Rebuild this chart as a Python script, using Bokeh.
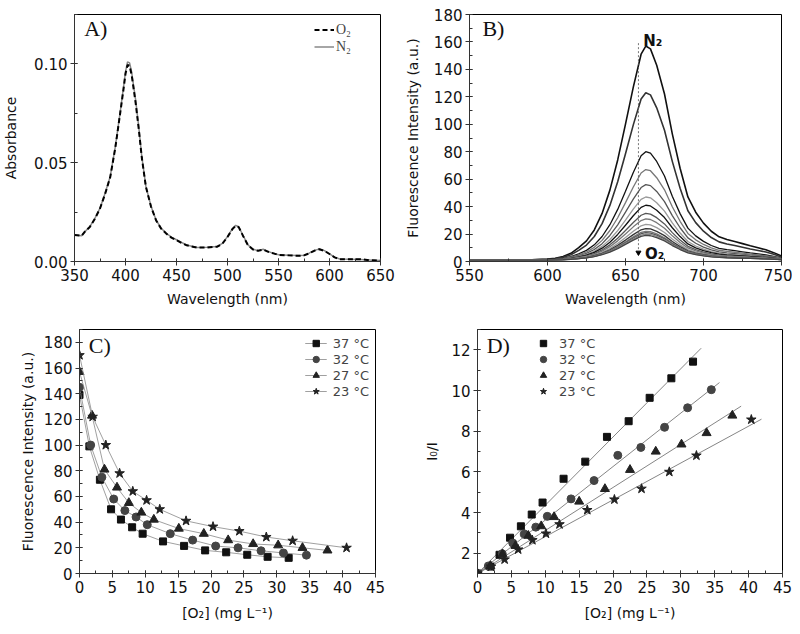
from bokeh.plotting import figure
from bokeh.layouts import column, row
from bokeh.models import Range1d, SingleIntervalTicker, Legend, LegendItem, NumeralTickFormatter
from bokeh.embed import file_html
from bokeh.resources import INLINE
from bokeh.core.properties import value

# ---------------- Panel A: absorbance ----------------
wl_abs = [350, 357, 360, 365, 370, 375, 380, 385, 390, 395, 398, 400, 402, 404, 406, 410, 413, 416, 420,
          425, 430, 435, 440, 445, 450, 455, 460, 470, 480, 490, 495, 500, 505, 508, 511, 515, 520, 525,
          530, 535, 540, 545, 550, 560, 570, 575, 580, 585, 590, 595, 600, 605, 610, 620, 630, 640, 650]
abs_n2 = [0.0134, 0.013, 0.015, 0.0176, 0.0218, 0.027, 0.0345, 0.043, 0.058, 0.0765, 0.088, 0.096, 0.101,
          0.1005, 0.096, 0.0815, 0.068, 0.053, 0.038, 0.028, 0.021, 0.0168, 0.0143, 0.0123, 0.011, 0.0096,
          0.0084, 0.0071, 0.0072, 0.0076, 0.0092, 0.0126, 0.0168, 0.0183, 0.0176, 0.0134, 0.0084, 0.0062,
          0.0055, 0.0062, 0.005, 0.0042, 0.0034, 0.0032, 0.003, 0.0032, 0.0042, 0.0055, 0.0064, 0.0055,
          0.0039, 0.0022, 0.0013, 0.0012, 0.001, 0.0007, 0.0005]
abs_o2 = [0.0134, 0.013, 0.015, 0.0175, 0.0216, 0.0268, 0.0342, 0.0426, 0.0575, 0.0758, 0.087, 0.095, 0.0995,
          0.099, 0.0945, 0.080, 0.067, 0.0525, 0.0378, 0.0278, 0.0208, 0.0166, 0.0141, 0.0121, 0.0108, 0.0094,
          0.0082, 0.007, 0.0071, 0.0075, 0.009, 0.0124, 0.0165, 0.018, 0.0174, 0.0132, 0.0083, 0.0061,
          0.0054, 0.006, 0.0049, 0.0041, 0.0033, 0.0031, 0.0029, 0.0031, 0.0041, 0.0054, 0.0062, 0.0054,
          0.0038, 0.0021, 0.0012, 0.0011, 0.0012, 0.0006, 0.0005]

# ---------------- Panel B: emission spectra ----------------
wl_fl = [550, 560, 570, 580, 590, 600, 605, 610, 615, 620, 625, 630, 635, 640, 645, 650, 655, 660, 663, 666,
         670, 675, 680, 685, 690, 695, 700, 705, 710, 715, 720, 725, 730, 735, 740, 745, 750]
fl_profile = [0, 0, 0, 0.0006, 0.002, 0.0045, 0.009, 0.017, 0.032, 0.058, 0.09, 0.141, 0.218, 0.327, 0.468,
              0.635, 0.808, 0.962, 1.0, 0.987, 0.910, 0.776, 0.590, 0.429, 0.295, 0.224, 0.173, 0.135,
              0.109, 0.096, 0.087, 0.077, 0.067, 0.058, 0.048, 0.035, 0.019]
fl_peaks = [157, 123, 80, 67, 56, 47, 41, 35, 31, 27, 24, 22, 21, 20, 19]
fl_baseline = 1.0
fl_colors = ["#111111", "#333333", "#111111", "#777777", "#555555", "#999999", "#111111", "#555555",
             "#777777", "#999999", "#333333", "#777777", "#555555", "#888888", "#444444"]

# ---------------- Panel C: intensity vs O2 ----------------
c_x37 = [0, 1.5, 3.1, 4.8, 6.3, 8.0, 9.6, 12.7, 15.9, 19.1, 22.3, 25.5, 28.6, 31.8]
c_y37 = [139, 99, 73, 50, 42, 36, 31, 25, 21.5, 18, 16.5, 14.6, 13, 12.2]
c_x32 = [0, 1.7, 3.4, 5.2, 6.9, 8.6, 10.3, 13.8, 17.2, 20.7, 24.1, 27.6, 31.0, 34.5]
c_y32 = [145, 100, 75, 58, 49, 44, 38, 31, 26, 21.4, 20, 17.7, 16, 14.3]
c_x27 = [0, 1.9, 3.8, 5.7, 7.5, 9.4, 11.3, 15.1, 18.9, 22.6, 26.4, 30.2, 33.9, 37.7]
c_y27 = [157, 123, 81, 67, 55, 47.5, 42, 35, 31, 26, 23, 22, 20, 18]
c_x23 = [0, 2.0, 4.0, 6.1, 8.1, 10.2, 12.2, 16.2, 20.3, 24.3, 28.4, 32.4, 40.6]
c_y23 = [170, 122, 100, 78, 64, 57, 50, 41, 36.5, 33, 28.4, 25.5, 20]

# ---------------- Panel D: Stern-Volmer ----------------
d_x37 = [0, 1.9, 3.25, 4.8, 6.4, 8.0, 9.6, 12.7, 15.9, 19.1, 22.3, 25.4, 28.6, 31.8]
d_y37 = [1.0, 1.34, 1.92, 2.76, 3.32, 3.9, 4.49, 5.66, 6.5, 7.72, 8.49, 9.64, 10.6, 11.42]
d_x32 = [0, 1.6, 3.65, 5.2, 6.9, 8.6, 10.3, 13.8, 17.2, 20.7, 24.1, 27.6, 31.0, 34.5]
d_y32 = [1.0, 1.37, 1.97, 2.5, 2.94, 3.28, 3.81, 4.67, 5.57, 6.81, 7.2, 8.19, 9.15, 10.04]
d_x27 = [0, 1.9, 3.7, 5.6, 7.5, 9.4, 11.3, 15.0, 18.8, 22.5, 26.3, 30.1, 33.8, 37.6]
d_y27 = [1.0, 1.37, 1.95, 2.36, 2.86, 3.33, 3.78, 4.54, 5.16, 6.1, 7.0, 7.35, 7.91, 8.77]
d_x23 = [0, 2.0, 4.0, 6.0, 8.1, 10.1, 12.1, 16.2, 20.2, 24.2, 28.3, 32.3, 40.4]
d_y23 = [1.0, 1.34, 1.69, 2.18, 2.64, 2.96, 3.42, 4.12, 4.64, 5.17, 6.0, 6.8, 8.57]
fit_x = {"37": [0, 33.0], "32": [0, 35.7], "27": [0, 38.9], "23": [0, 41.9]}
fit_y = {"37": [1.0, 12.08], "32": [1.0, 10.39], "27": [1.0, 9.23], "23": [1.0, 8.59]}

temps = ["37", "32", "27", "23"]
markers = {"37": "square", "32": "circle", "27": "triangle", "23": "star"}
mcolors = {"37": "#111111", "32": "#444444", "27": "#222222", "23": "#222222"}
msizes = {"37": 7, "32": 8, "27": 9, "23": 10}

SANS = "DejaVu Sans"
SERIF = "Liberation Serif"


def style(p, xint, yint, yfmt=None):
    p.outline_line_color = "black"
    p.outline_line_width = 1
    p.xgrid.visible = False
    p.ygrid.visible = False
    p.xaxis.ticker = SingleIntervalTicker(interval=xint, num_minor_ticks=2)
    p.yaxis.ticker = SingleIntervalTicker(interval=yint, num_minor_ticks=2)
    if yfmt:
        p.yaxis.formatter = NumeralTickFormatter(format=yfmt)
    for ax in p.axis:
        ax.major_label_text_font = SANS
        ax.major_label_text_font_size = "15px"
        ax.major_label_text_color = "#111111"
        ax.axis_label_text_font = SANS
        ax.axis_label_text_font_size = "14px"
        ax.axis_label_text_font_style = "normal"
        ax.axis_label_text_color = "#111111"
        ax.axis_line_color = "#333333"
        ax.major_tick_line_color = "#333333"
        ax.minor_tick_line_color = "#333333"
        ax.major_tick_in = 3
        ax.major_tick_out = 4
        ax.minor_tick_in = 3
        ax.minor_tick_out = 0
        ax.major_label_standoff = 3


def panel_label(p, x, y, t):
    p.text(x=[x], y=[y], text=[t], text_font=value(SERIF), text_font_size="22px",
           text_baseline="middle", text_align="left", text_color="#111111")


# ---- A
pA = figure(width=400, height=318, output_backend="svg", toolbar_location=None,
            x_range=Range1d(350, 650), y_range=Range1d(0, 0.125),
            min_border_left=74, min_border_right=20, min_border_top=14, min_border_bottom=57,
            background_fill_color="white", border_fill_color="white")
style(pA, 50, 0.05, yfmt="0.00")
pA.xaxis.axis_label = "Wavelength (nm)"
pA.yaxis.axis_label = "Absorbance"
pA.yaxis.axis_label_standoff = 12
pA.xaxis.axis_label_standoff = 7
rn2 = pA.line(wl_abs, abs_n2, line_color="#888888", line_width=1.5)
ro2 = pA.line(wl_abs, abs_o2, line_color="black", line_width=2, line_dash="5 3")
legA = Legend(items=[LegendItem(label="O₂", renderers=[ro2]), LegendItem(label="N₂", renderers=[rn2])],
              location=(238, 204), label_text_font=SERIF, label_text_font_size="14px",
              glyph_width=20, glyph_height=17, label_height=17, label_standoff=2, spacing=0, padding=2,
              background_fill_alpha=0, border_line_alpha=0)
pA.add_layout(legA)
panel_label(pA, 359.5, 0.118, "A)")

# ---- B
pB = figure(width=392, height=318, output_backend="svg", toolbar_location=None,
            x_range=Range1d(550, 750), y_range=Range1d(0, 180),
            min_border_left=69, min_border_right=11, min_border_top=14, min_border_bottom=56,
            background_fill_color="white", border_fill_color="white")
style(pB, 50, 20)
pB.xaxis.axis_label = "Wavelength (nm)"
pB.yaxis.axis_label = "Fluorescence Intensity (a.u.)"
pB.yaxis.axis_label_standoff = 10
pB.xaxis.axis_label_standoff = 7
for pk, col in zip(fl_peaks, fl_colors):
    ys = [fl_baseline + (pk - fl_baseline) * f for f in fl_profile]
    pB.line(wl_fl, ys, line_color=col, line_width=1.6 if pk > 100 else 1.3)
pB.line([658.3, 658.3], [9, 160], line_color="#555555", line_width=0.8, line_dash="2 2")
pB.scatter([658.3], [6.5], marker="inverted_triangle", size=5, color="black")
pB.text(x=[661.3], y=[161], text=["N₂"], text_font=value(SANS), text_font_size="15px",
        text_font_style="bold", text_baseline="middle", text_color="#111111")
pB.text(x=[662.5], y=[5.5], text=["O₂"], text_font=value(SANS), text_font_size="15px",
        text_font_style="bold", text_baseline="middle", text_color="#111111")
panel_label(pB, 558.3, 170, "B)")

# ---- C
pC = figure(width=400, height=308, output_backend="svg", toolbar_location=None,
            x_range=Range1d(0, 45), y_range=Range1d(0, 190),
            min_border_left=79, min_border_right=25, min_border_top=11, min_border_bottom=53,
            background_fill_color="white", border_fill_color="white")
style(pC, 5, 20)
pC.xaxis.axis_label = "[O₂] (mg L⁻¹)"
pC.yaxis.axis_label = "Fluorescence Intensity (a.u.)"
pC.yaxis.axis_label_standoff = 5
pC.xaxis.axis_label_standoff = 9
cdata = {"37": (c_x37, c_y37), "32": (c_x32, c_y32), "27": (c_x27, c_y27), "23": (c_x23, c_y23)}
itemsC = []
for t in temps:
    xs, ys = cdata[t]
    rl = pC.line(xs, ys, line_color="#888888", line_width=0.8)
    rs = pC.scatter(xs, ys, marker=markers[t], size=msizes[t], color=mcolors[t])
    itemsC.append(LegendItem(label=t + " °C", renderers=[rl, rs]))
legC = Legend(items=itemsC, location="top_right", label_text_font=SANS, label_text_font_size="13px",
              glyph_width=22, glyph_height=16, label_height=16, label_standoff=6, spacing=0, padding=2,
              margin=4, background_fill_alpha=0, border_line_alpha=0)
pC.add_layout(legC)
panel_label(pC, 1.4, 177.5, "C)")

# ---- D
pD = figure(width=392, height=308, output_backend="svg", toolbar_location=None,
            x_range=Range1d(0, 45), y_range=Range1d(1, 13),
            min_border_left=77, min_border_right=10, min_border_top=11, min_border_bottom=53,
            background_fill_color="white", border_fill_color="white")
style(pD, 5, 2)
pD.xaxis.axis_label = "[O₂] (mg L⁻¹)"
pD.yaxis.axis_label = "I₀/I"
pD.yaxis.axis_label_standoff = 8
pD.xaxis.axis_label_standoff = 9
ddata = {"37": (d_x37, d_y37), "32": (d_x32, d_y32), "27": (d_x27, d_y27), "23": (d_x23, d_y23)}
itemsD = []
for t in temps:
    pD.line(fit_x[t], fit_y[t], line_color="#666666", line_width=0.8)
for t in temps:
    xs, ys = ddata[t]
    rs = pD.scatter(xs, ys, marker=markers[t], size=msizes[t], color=mcolors[t])
    itemsD.append(LegendItem(label=t + " °C", renderers=[rs]))
legD = Legend(items=itemsD, location=(56, 172), label_text_font=SANS, label_text_font_size="13px",
              glyph_width=16, glyph_height=16, label_height=16, label_standoff=8, spacing=0, padding=2,
              background_fill_alpha=0, border_line_alpha=0)
pD.add_layout(legD)
panel_label(pD, 1.35, 12.2, "D)")

layout = column(row(pA, pB), row(pC, pD))
open("out.html", "w").write(file_html(layout, INLINE))
